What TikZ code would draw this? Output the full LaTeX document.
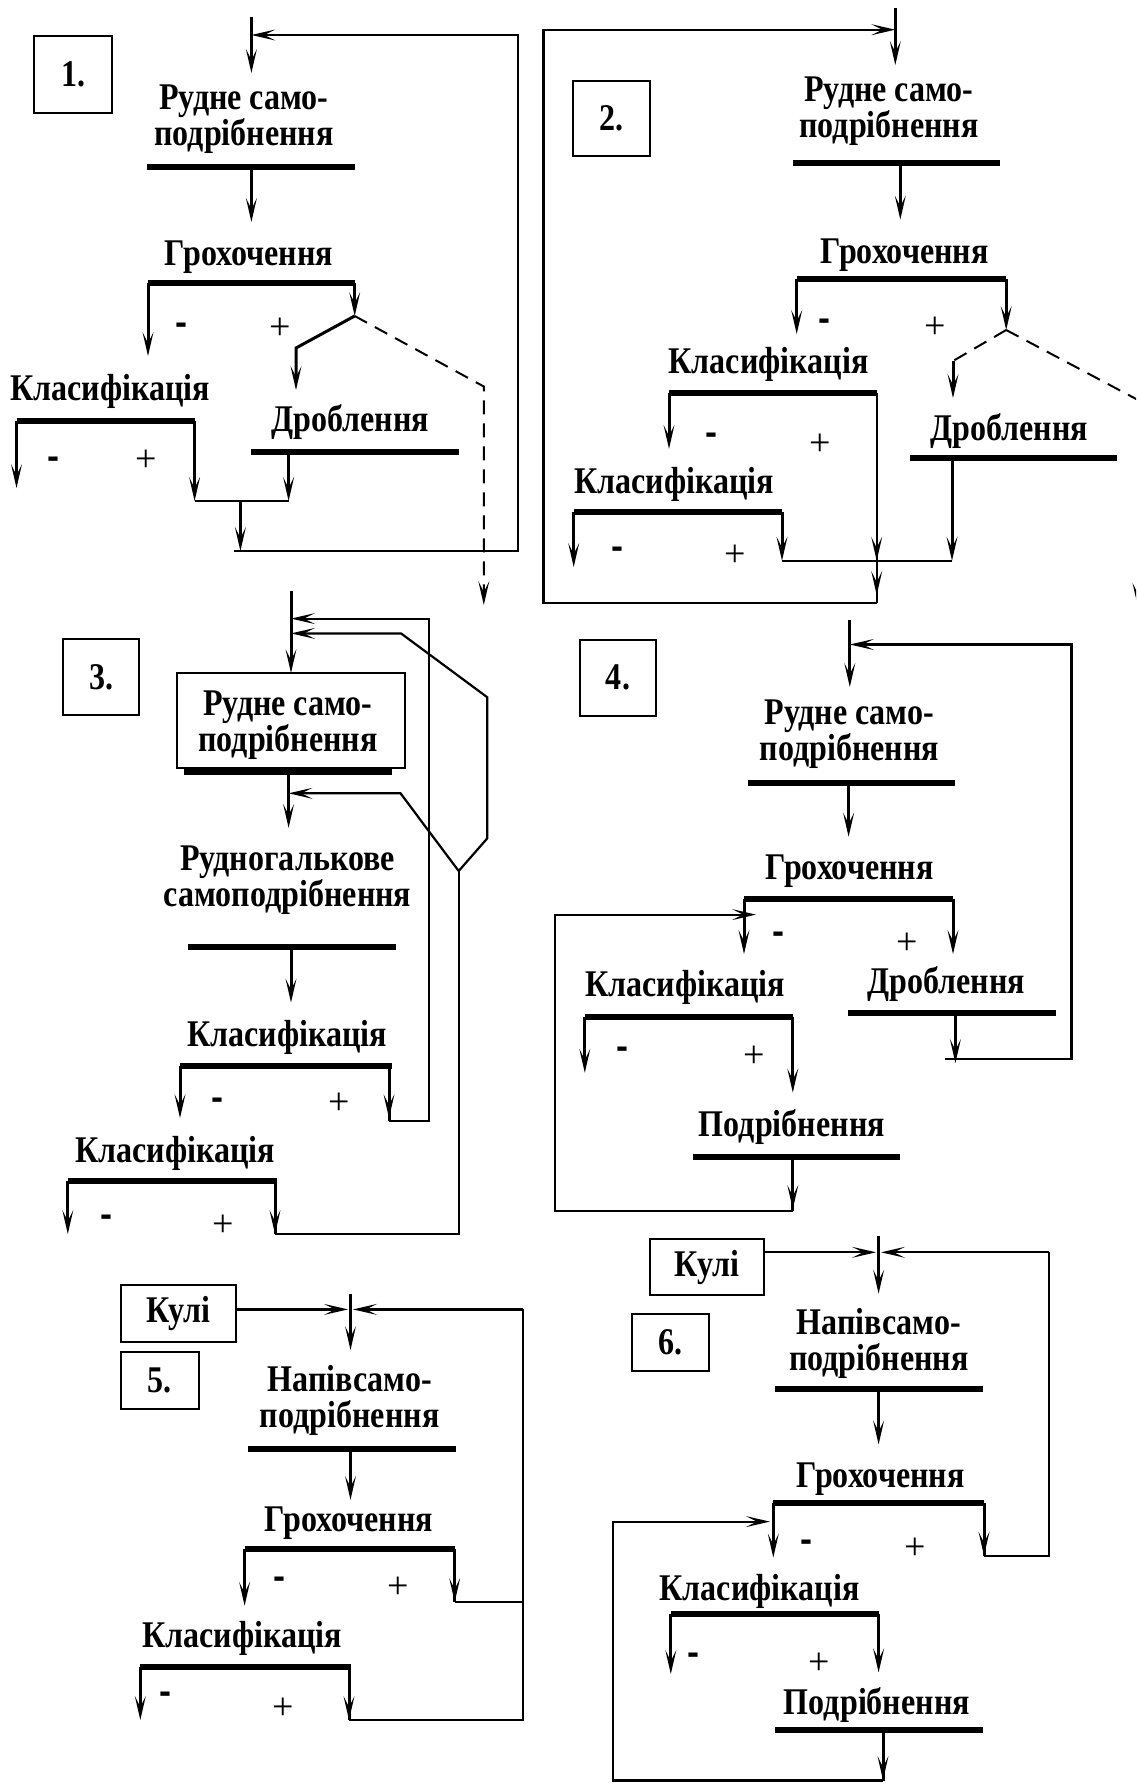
\documentclass[tikz,border=0pt]{standalone}
\usepackage{fontspec}
\setmainfont{Liberation Serif}[FakeStretch=0.85]
\newfontfamily\hyphfont{Liberation Sans}
\newfontfamily\plusfont{Liberation Serif}
\newcommand\lblfont{\fontsize{37.7}{36}\selectfont\bfseries}
\tikzset{
  lbl/.style={font=\lblfont, inner sep=0pt, align=center},
  num/.style={draw, line width=2pt, font=\lblfont, inner sep=0pt},
  kbox/.style={draw, line width=2pt, font=\lblfont, inner sep=0pt},
  bar/.style={line width=6pt},
  flow/.style={line width=3pt, shorten >=11pt},
  link/.style={line width=2.2pt},
  loopar/.style={line width=2.2pt, shorten >=11pt},
  dsh/.style={line width=2pt, dash pattern=on 14pt off 9pt},
  dsharr/.style={line width=2pt, dash pattern=on 14pt off 9pt, shorten >=11pt},
  mn/.style={font=\fontsize{36}{36}\selectfont\hyphfont\bfseries, inner sep=0pt},
  pl/.style={font=\fontsize{38}{38}\selectfont\plusfont, inner sep=0pt},
  pics/hdn/.style={code={\fill (0,0) -- (-5.5,-24) -- (0,-13) -- (5.5,-24) -- cycle;}},
  pics/hlt/.style={code={\fill (0,0) -- (24,-5.5) -- (13,0) -- (24,5.5) -- cycle;}},
  pics/hrt/.style={code={\fill (0,0) -- (-24,-5.5) -- (-13,0) -- (-24,5.5) -- cycle;}},
}
\begin{document}
\begin{tikzpicture}[x=1pt,y=-1pt]
\useasboundingbox (0,0) rectangle (1136,1783);
\clip (0,0) rectangle (1136,1783);
\fill[white] (0,0) rectangle (1136,1783);

% ================= Diagram 1 =================
\node[num, minimum width=77.6pt, minimum height=77pt] (n1) at (73.2,74.5) {1.};
\node[lbl] (d1t) at (244,119.6) {Рудне само-\\подрібнення};
\node[lbl, anchor=base] (d1g) at (248.8,265.3) {Грохочення};
\node[lbl, anchor=base] (d1k) at (110.2,400) {Класифікація};
\node[lbl, anchor=base] (d1d) at (350.4,431) {Дроблення};
\node[mn] (d1m1) at (181.8,329) {-};
\node[pl] (d1p1) at (280.6,329) {+};
\node[mn] (d1m2) at (53.4,463) {-};
\node[pl] (d1p2) at (146.3,461) {+};
\coordinate (d1top) at (251.4,17);
\coordinate (d1fb) at (251.4,35);
\coordinate (d1in) at (251.4,73);
\coordinate (d1b1l) at (147.4,166.5);
\coordinate (d1b1r) at (354.7,166.5);
\coordinate (d1o1) at (251.4,166.5);
\coordinate (d1i2) at (251.4,222);
\coordinate (d1b2l) at (148,283);
\coordinate (d1b2r) at (354.7,283);
\coordinate (d1u) at (148,356);
\coordinate (d1ov) at (354.7,316);
\coordinate (d1ov2) at (296,348);
\coordinate (d1dr) at (296,390);
\coordinate (d1da) at (483.8,386.5);
\coordinate (d1dt) at (483.8,605);
\coordinate (d1b3l) at (16.5,421);
\coordinate (d1b3r) at (194.6,421);
\coordinate (d1ku) at (16.5,488);
\coordinate (d1ko) at (194.6,501);
\coordinate (d1b4l) at (250.7,451.6);
\coordinate (d1b4r) at (458.7,451.6);
\coordinate (d1c0) at (288.6,451.6);
\coordinate (d1c1) at (288.6,501);
\coordinate (d1mg) at (240.4,501);
\coordinate (d1ret) at (240.4,551);
\coordinate (d1rl) at (234,551);
\coordinate (d1rr) at (518,551);
\coordinate (d1rt) at (518,35);
\draw[bar] (d1b1l) -- (d1b1r);
\draw[bar] (d1b2l) -- (d1b2r);
\draw[bar] (d1b3l) -- (d1b3r);
\draw[bar] (d1b4l) -- (d1b4r);
\draw[flow] (d1top) -- (d1in);
\draw[flow] (d1o1) -- (d1i2);
\draw[flow] (d1b2l) -- (d1u);
\draw[flow] (d1b2r) -- (d1ov);
\draw[flow] (d1ov) -- (d1ov2) -- (d1dr);
\draw[dsharr] (d1ov) -- (d1da) -- (d1dt);
\draw[flow] (d1b3l) -- (d1ku);
\draw[flow] (d1b3r) -- (d1ko);
\draw[flow] (d1c0) -- (d1c1);
\draw[link] (d1ko) -- (d1c1);
\draw[flow] (d1mg) -- (d1ret);
\draw[loopar] (d1rl) -- (d1rr) -- (d1rt) -- (d1fb);
\foreach \p in {d1in,d1i2,d1u,d1ov,d1dr,d1dt,d1ku,d1ko,d1c1,d1ret} \pic at (\p) {hdn};
\pic at (d1fb) {hlt};

% ================= Diagram 2 =================
\node[num, minimum width=76.5pt, minimum height=75.2pt] (n2) at (611.5,118.6) {2.};
\node[lbl] (d2t) at (889,111.4) {Рудне само-\\подрібнення};
\node[lbl, anchor=base] (d2g) at (904.6,263.8) {Грохочення};
\node[lbl, anchor=base] (d2k1) at (768.5,373.7) {Класифікація};
\node[lbl, anchor=base] (d2k2) at (674,493) {Класифікація};
\node[lbl, anchor=base] (d2d) at (1009.3,440) {Дроблення};
\node[mn] (d2m1) at (824.5,325) {-};
\node[pl] (d2p1) at (935,328) {+};
\node[mn] (d2m2) at (711.7,439) {-};
\node[pl] (d2p2) at (820,445) {+};
\node[mn] (d2m3) at (617,552.8) {-};
\node[pl] (d2p3) at (735.6,555.6) {+};
\coordinate (d2top) at (895.3,8);
\coordinate (d2fb) at (895.3,29.7);
\coordinate (d2in) at (895.3,65);
\coordinate (d2b1l) at (792.8,163);
\coordinate (d2b1r) at (999.7,163);
\coordinate (d2o1) at (900.3,163);
\coordinate (d2i2) at (900.3,219.5);
\coordinate (d2b2l) at (796.7,278.8);
\coordinate (d2b2r) at (1006.2,278.8);
\coordinate (d2u) at (796.7,334);
\coordinate (d2ov) at (1006.2,330);
\coordinate (d2bend) at (953,361);
\coordinate (d2dr) at (953,398);
\coordinate (d2far) at (1138,400);
\coordinate (d2ft) at (1138,607);
\coordinate (d2b3l) at (669,393.4);
\coordinate (d2b3r) at (876.7,393.4);
\coordinate (d2ku1) at (669,448.8);
\coordinate (d2mg) at (876.7,560.7);
\coordinate (d2low) at (876.7,595);
\coordinate (d2bot) at (876.7,603);
\coordinate (d2b4l) at (573.7,512);
\coordinate (d2b4r) at (782,512);
\coordinate (d2ku2) at (573.7,567);
\coordinate (d2ko2) at (782,560.7);
\coordinate (d2b5l) at (909.6,458);
\coordinate (d2b5r) at (1116.8,458);
\coordinate (d2c0) at (952,458);
\coordinate (d2c1) at (952,560.7);
\coordinate (d2bl) at (543.5,603);
\coordinate (d2tl) at (543.5,29.7);
\draw[bar] (d2b1l) -- (d2b1r);
\draw[bar] (d2b2l) -- (d2b2r);
\draw[bar] (d2b3l) -- (d2b3r);
\draw[bar] (d2b4l) -- (d2b4r);
\draw[bar] (d2b5l) -- (d2b5r);
\draw[flow] (d2top) -- (d2in);
\draw[flow] (d2o1) -- (d2i2);
\draw[flow] (d2b2l) -- (d2u);
\draw[flow] (d2b2r) -- (d2ov);
\draw[dsh] (d2ov) -- (d2bend);
\draw[flow] (d2bend) -- (d2dr);
\draw[dsharr] (d2ov) -- (d2far) -- (d2ft);
\draw[flow] (d2b3l) -- (d2ku1);
\draw[link] (d2b3r) -- (d2bot);
\draw[flow] (d2b4l) -- (d2ku2);
\draw[flow] (d2b4r) -- (d2ko2);
\draw[flow] (d2c0) -- (d2c1);
\draw[link] (d2ko2) -- (d2c1);
\draw[loopar] (d2bot) -- (d2bl) -- (d2tl) -- (d2fb);
\foreach \p in {d2in,d2i2,d2u,d2ov,d2dr,d2ft,d2ku1,d2mg,d2low,d2ku2,d2ko2,d2c1} \pic at (\p) {hdn};
\pic at (d2fb) {hrt};

% ================= Diagram 3 =================
\node[num, minimum width=76.5pt, minimum height=76.2pt] (n3) at (101.2,677.3) {3.};
\node[draw, line width=2pt, minimum width=227.3pt, minimum height=95pt, inner sep=0pt] (d3box) at (291,720.5) {};
\node[lbl] (d3t) at (288,725) {Рудне само-\\подрібнення};
\node[lbl] (d3r) at (287.5,880.4) {Рудногалькове\\самоподрібнення};
\node[lbl, anchor=base] (d3k1) at (287.2,1046.5) {Класифікація};
\node[lbl, anchor=base] (d3k2) at (175,1162.3) {Класифікація};
\node[mn] (d3m1) at (217,1103.5) {-};
\node[pl] (d3p1) at (339,1104) {+};
\node[mn] (d3m2) at (106.7,1221) {-};
\node[pl] (d3p2) at (223,1225.5) {+};
\coordinate (d3top) at (291,591);
\coordinate (d3fa) at (291,618.6);
\coordinate (d3fb) at (291,633.4);
\coordinate (d3in) at (291,673);
\coordinate (d3sl) at (183.5,772);
\coordinate (d3sr) at (391.5,772);
\coordinate (d3o1) at (288.6,772);
\coordinate (d3fc) at (288.6,793.3);
\coordinate (d3i2) at (288.6,827.8);
\coordinate (d3b2l) at (188.4,947);
\coordinate (d3b2r) at (396,947);
\coordinate (d3o2) at (291,947);
\coordinate (d3i3) at (291,1002.5);
\coordinate (d3b3l) at (180,1065.6);
\coordinate (d3b3r) at (391.5,1065.6);
\coordinate (d3s3) at (389,1065.6);
\coordinate (d3u1) at (180,1118);
\coordinate (d3o3) at (389,1118);
\coordinate (d3o3b) at (389,1121);
\coordinate (d3Ar) at (428.7,1121);
\coordinate (d3At) at (428.7,618.6);
\coordinate (d3b4l) at (67.8,1181);
\coordinate (d3b4r) at (277,1181);
\coordinate (d3s4) at (275,1181);
\coordinate (d3u2) at (67.8,1234);
\coordinate (d3o4) at (275,1234);
\coordinate (d3V) at (458.7,1234);
\coordinate (d3Vj) at (458.7,871);
\coordinate (d3Rb) at (487.3,838.3);
\coordinate (d3Rt) at (487.3,697.3);
\coordinate (d3Rh) at (401,633.4);
\coordinate (d3Lh) at (400.5,793.3);
\draw[bar] (d3sl) -- (d3sr);
\draw[bar] (d3b2l) -- (d3b2r);
\draw[bar] (d3b3l) -- (d3b3r);
\draw[bar] (d3b4l) -- (d3b4r);
\draw[flow] (d3top) -- (d3in);
\draw[flow] (d3o1) -- (d3i2);
\draw[flow] (d3o2) -- (d3i3);
\draw[flow] (d3b3l) -- (d3u1);
\draw[line width=3pt] (d3s3) -- (d3o3b);
\draw[loopar] (d3o3b) -- (d3Ar) -- (d3At) -- (d3fa);
\draw[flow] (d3b4l) -- (d3u2);
\draw[line width=3pt] (d3s4) -- (d3o4);
\draw[link] (d3o4) -- (d3V) -- (d3Vj);
\draw[loopar] (d3Vj) -- (d3Rb) -- (d3Rt) -- (d3Rh) -- (d3fb);
\draw[loopar] (d3Vj) -- (d3Lh) -- (d3fc);
\foreach \p in {d3in,d3i2,d3i3,d3u1,d3o3,d3u2,d3o4} \pic at (\p) {hdn};
\foreach \p in {d3fa,d3fb,d3fc} \pic at (\p) {hlt};

% ================= Diagram 4 =================
\node[num, minimum width=76pt, minimum height=76pt] (n4) at (618,677.7) {4.};
\node[lbl] (d4t) at (849.4,734.2) {Рудне само-\\подрібнення};
\node[lbl, anchor=base] (d4g) at (849.7,879) {Грохочення};
\node[lbl, anchor=base] (d4k) at (685.2,996.8) {Класифікація};
\node[lbl, anchor=base] (d4d) at (946,993.7) {Дроблення};
\node[lbl, anchor=base] (d4p) at (791.8,1136.8) {Подрібнення};
\node[mn] (d4m1) at (778.7,938) {-};
\node[pl] (d4p1) at (906.8,944) {+};
\node[mn] (d4m2) at (622.5,1053) {-};
\node[pl] (d4p2) at (754,1057) {+};
\coordinate (d4top) at (849.8,620);
\coordinate (d4fb) at (849.8,644.5);
\coordinate (d4in) at (849.8,687);
\coordinate (d4b1l) at (748,783.3);
\coordinate (d4b1r) at (955,783.3);
\coordinate (d4o1) at (848.6,783.3);
\coordinate (d4i2) at (848.6,836.7);
\coordinate (d4b2l) at (744,898.8);
\coordinate (d4b2r) at (953,898.8);
\coordinate (d4u) at (744,954);
\coordinate (d4ov) at (953,954);
\coordinate (d4b3l) at (584.8,1016.6);
\coordinate (d4b3r) at (792.8,1016.6);
\coordinate (d4ku) at (584.8,1072.7);
\coordinate (d4ko) at (792.8,1092.5);
\coordinate (d4b4l) at (847.9,1013.4);
\coordinate (d4b4r) at (1056,1013.4);
\coordinate (d4c0) at (955.4,1013.4);
\coordinate (d4c1) at (955.4,1063);
\coordinate (d4rj) at (944.8,1059);
\coordinate (d4rr) at (1071.4,1059);
\coordinate (d4rt) at (1071.4,644.5);
\coordinate (d4b5l) at (693,1157);
\coordinate (d4b5r) at (900.3,1157);
\coordinate (d4p0) at (792.8,1157);
\coordinate (d4p1) at (792.8,1209);
\coordinate (d4bb) at (792.8,1211);
\coordinate (d4bl) at (555.2,1211);
\coordinate (d4tl) at (555.2,914.6);
\coordinate (d4ta) at (756,914.6);
\draw[bar] (d4b1l) -- (d4b1r);
\draw[bar] (d4b2l) -- (d4b2r);
\draw[bar] (d4b3l) -- (d4b3r);
\draw[bar] (d4b4l) -- (d4b4r);
\draw[bar] (d4b5l) -- (d4b5r);
\draw[flow] (d4top) -- (d4in);
\draw[flow] (d4o1) -- (d4i2);
\draw[flow] (d4b2l) -- (d4u);
\draw[flow] (d4b2r) -- (d4ov);
\draw[flow] (d4b3l) -- (d4ku);
\draw[flow] (d4b3r) -- (d4ko);
\draw[flow] (d4c0) -- (d4c1);
\draw[loopar] (d4rj) -- (d4rr) -- (d4rt) -- (d4fb);
\draw[line width=3pt] (d4p0) -- (d4bb);
\draw[loopar] (d4bb) -- (d4bl) -- (d4tl) -- (d4ta);
\foreach \p in {d4in,d4i2,d4u,d4ov,d4ku,d4ko,d4c1,d4p1} \pic at (\p) {hdn};
\pic at (d4fb) {hlt};
\pic at (d4ta) {hrt};

% ================= Diagram 5 =================
\node[kbox, minimum width=115.4pt, minimum height=57.5pt] (k5) at (178.5,1313.5) {Кулі};
\node[num, minimum width=77.7pt, minimum height=57.1pt] (n5) at (159.7,1380.3) {5.};
\node[lbl] (d5t) at (349.7,1400) {Напівсамо-\\подрібнення};
\node[lbl, anchor=base] (d5g) at (348.8,1531.8) {Грохочення};
\node[lbl, anchor=base] (d5k) at (242.2,1647.5) {Класифікація};
\node[mn] (d5m1) at (279.2,1582.7) {-};
\node[pl] (d5p1) at (398.6,1588) {+};
\node[mn] (d5m2) at (165,1697.4) {-};
\node[pl] (d5p2) at (283.3,1709) {+};
\coordinate (d5ks) at (236.2,1309.4);
\coordinate (d5ka) at (348,1309.4);
\coordinate (d5top) at (350.5,1293.5);
\coordinate (d5in) at (350.5,1350);
\coordinate (d5fb) at (353,1309.4);
\coordinate (d5b1l) at (248,1448.7);
\coordinate (d5b1r) at (456.4,1448.7);
\coordinate (d5o1) at (350.5,1448.7);
\coordinate (d5i2) at (350.5,1499.8);
\coordinate (d5b2l) at (244.6,1549.2);
\coordinate (d5b2r) at (454.7,1549.2);
\coordinate (d5u) at (244.6,1605.7);
\coordinate (d5ov) at (454.7,1602);
\coordinate (d5h) at (523,1602);
\coordinate (d5b3l) at (140.3,1667.4);
\coordinate (d5b3r) at (350.5,1667.4);
\coordinate (d5s3) at (349,1667.4);
\coordinate (d5ku) at (140.3,1720);
\coordinate (d5ko) at (349,1720);
\coordinate (d5rb) at (523,1720);
\coordinate (d5rt) at (523,1309.4);
\draw[bar] (d5b1l) -- (d5b1r);
\draw[bar] (d5b2l) -- (d5b2r);
\draw[bar] (d5b3l) -- (d5b3r);
\draw[loopar] (d5ks) -- (d5ka);
\draw[flow] (d5top) -- (d5in);
\draw[flow] (d5o1) -- (d5i2);
\draw[flow] (d5b2l) -- (d5u);
\draw[line width=3pt] (d5b2r) -- (d5ov);
\draw[link] (d5ov) -- (d5h);
\draw[flow] (d5b3l) -- (d5ku);
\draw[line width=3pt] (d5s3) -- (d5ko);
\draw[link] (d5ko) -- (d5rb) -- (d5rt);
\draw[loopar] (d5rt) -- (d5fb);
\foreach \p in {d5in,d5i2,d5u,d5ov,d5ku,d5ko} \pic at (\p) {hdn};
\pic at (d5ka) {hrt};
\pic at (d5fb) {hlt};

% ================= Diagram 6 =================
\node[kbox, minimum width=114.5pt, minimum height=56.7pt] (k6) at (706.9,1267) {Кулі};
\node[num, minimum width=76.9pt, minimum height=56.8pt] (n6) at (670.3,1342.4) {6.};
\node[lbl] (d6t) at (878.8,1343.6) {Напівсамо-\\подрібнення};
\node[lbl, anchor=base] (d6g) at (880.7,1487.7) {Грохочення};
\node[lbl, anchor=base] (d6k) at (759.5,1600.8) {Класифікація};
\node[lbl, anchor=base] (d6p) at (876.9,1714.6) {Подрібнення};
\node[mn] (d6m1) at (806,1546) {-};
\node[pl] (d6p1) at (915.2,1548.5) {+};
\node[mn] (d6m2) at (693,1658.8) {-};
\node[pl] (d6p2) at (818.8,1663.4) {+};
\coordinate (d6ks) at (764.1,1252.3);
\coordinate (d6ka) at (876,1252.3);
\coordinate (d6top) at (878.6,1236);
\coordinate (d6in) at (878.6,1293.6);
\coordinate (d6fb) at (881,1252.3);
\coordinate (d6b1l) at (775.4,1388.8);
\coordinate (d6b1r) at (982.9,1388.8);
\coordinate (d6o1) at (878.6,1388.8);
\coordinate (d6i2) at (878.6,1444.4);
\coordinate (d6b2l) at (773.3,1503);
\coordinate (d6b2r) at (984,1503);
\coordinate (d6u) at (773.3,1557.5);
\coordinate (d6ov) at (984,1555.7);
\coordinate (d6rr) at (1048.9,1555.7);
\coordinate (d6rt) at (1048.9,1252.3);
\coordinate (d6b3l) at (670.8,1613.9);
\coordinate (d6b3r) at (878.6,1613.9);
\coordinate (d6ku) at (670.8,1674);
\coordinate (d6ko) at (878.6,1672.4);
\coordinate (d6b4l) at (775.4,1729.9);
\coordinate (d6b4r) at (982.9,1729.9);
\coordinate (d6p0) at (883,1729.9);
\coordinate (d6p1) at (883,1780);
\coordinate (d6bb) at (883,1780.5);
\coordinate (d6bl) at (613,1780.5);
\coordinate (d6tl) at (613,1521.6);
\coordinate (d6ta) at (769.9,1521.6);
\draw[bar] (d6b1l) -- (d6b1r);
\draw[bar] (d6b2l) -- (d6b2r);
\draw[bar] (d6b3l) -- (d6b3r);
\draw[bar] (d6b4l) -- (d6b4r);
\draw[loopar] (d6ks) -- (d6ka);
\draw[flow] (d6top) -- (d6in);
\draw[flow] (d6o1) -- (d6i2);
\draw[flow] (d6b2l) -- (d6u);
\draw[line width=3pt] (d6b2r) -- (d6ov);
\draw[link] (d6ov) -- (d6rr) -- (d6rt);
\draw[loopar] (d6rt) -- (d6fb);
\draw[flow] (d6b3l) -- (d6ku);
\draw[flow] (d6b3r) -- (d6ko);
\draw[line width=3pt] (d6p0) -- (d6bb);
\draw[loopar] (d6bb) -- (d6bl) -- (d6tl) -- (d6ta);
\foreach \p in {d6in,d6i2,d6u,d6ov,d6ku,d6ko,d6p1} \pic at (\p) {hdn};
\pic at (d6ka) {hrt};
\pic at (d6fb) {hlt};
\pic at (d6ta) {hrt};
\end{tikzpicture}
\end{document}
